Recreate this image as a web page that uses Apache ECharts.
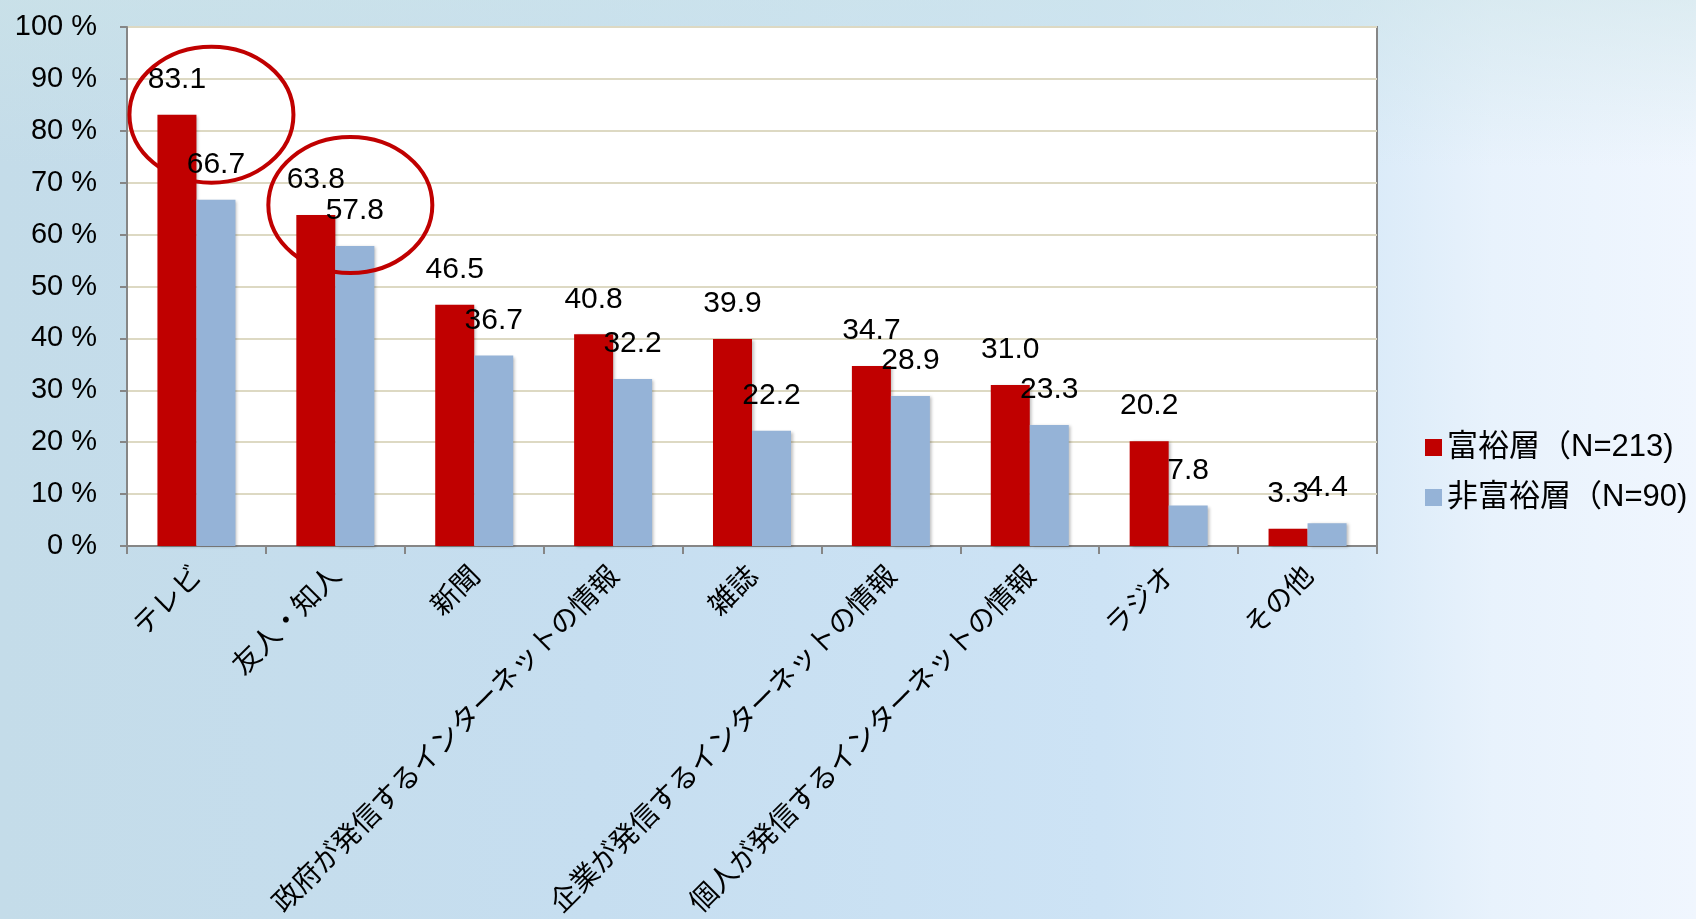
<!DOCTYPE html>
<html>
<head>
<meta charset="utf-8">
<script src="https://cdn.jsdelivr.net/npm/echarts@6/dist/echarts.min.js"></script>
<style>
html,body{margin:0;padding:0;width:1696px;height:919px;overflow:hidden;}
body{
  background:
    linear-gradient(180deg, rgba(205,228,232,0.55) 0%, rgba(205,228,232,0) 18%),
    linear-gradient(90deg, #c4dce9 0%, #c6def0 35%, #cde3f5 65%, #d9eaf8 80%, #e8f2fc 88%, #f0f6fe 100%);
}
#chart{width:1696px;height:919px;}
</style>
</head>
<body>
<div id="chart"></div>
<script>
const categories = ['テレビ','友人・知人','新聞','政府が発信するインターネットの情報','雑誌','企業が発信するインターネットの情報','個人が発信するインターネットの情報','ラジオ','その他'];
const seriesNames = ['富裕層（N=213)','非富裕層（N=90)'];
const wealthy = [83.1, 63.8, 46.5, 40.8, 39.9, 34.7, 31.0, 20.2, 3.3];
const nonWealthy = [66.7, 57.8, 36.7, 32.2, 22.2, 28.9, 23.3, 7.8, 4.4];
const yTicks = {min: 0, max: 100, interval: 10};
// highlighted categories (index, value level of ellipse centre)
const highlights = [[0, 83.1], [1, 65.7]];

const latin = "'Liberation Sans', Arial, 'Noto Sans CJK JP', sans-serif";
const cjk = "'Noto Sans CJK JP', 'Noto Sans CJK SC', sans-serif";

const chart = echarts.init(document.getElementById('chart'), null, {renderer: 'canvas'});
const labelCfg = {
  show: true, position: 'top', distance: 20,
  color: '#000', fontSize: 30, fontFamily: latin,
  formatter: p => Number(p.value).toFixed(1)
};
const shadow = {shadowColor: 'rgba(0,0,0,0.25)', shadowBlur: 3, shadowOffsetX: 2, shadowOffsetY: 1};
chart.setOption({
  backgroundColor: 'transparent',
  animation: false,
  grid: {left: 127, right: 319, top: 27, bottom: 373, show: true, backgroundColor: '#ffffff', borderColor: '#868686', borderWidth: 2},
  legend: {
    orient: 'vertical', left: 1420, top: 427,
    itemWidth: 17, itemHeight: 17, itemGap: 19, icon: 'rect',
    textStyle: {fontSize: 31, fontFamily: latin, color: '#000', padding: [0, 0, 0, 0]},
    data: seriesNames
  },
  xAxis: {
    type: 'category', data: categories,
    axisLine: {lineStyle: {color: '#868686', width: 2}},
    axisTick: {show: true, length: 8, lineStyle: {color: '#868686', width: 2}},
    axisLabel: {rotate: 45, interval: 0, fontSize: 28, fontFamily: cjk, color: '#000', margin: 24}
  },
  yAxis: {
    type: 'value', min: yTicks.min, max: yTicks.max, interval: yTicks.interval,
    axisLine: {show: true, lineStyle: {color: '#868686', width: 2}},
    axisTick: {show: true, length: 7, lineStyle: {color: '#868686', width: 2}},
    axisLabel: {formatter: '{value} %', fontSize: 29, fontFamily: latin, color: '#000', margin: 30},
    splitLine: {lineStyle: {color: '#DDD9C3', width: 2}}
  },
  series: [
    {name: seriesNames[0], type: 'bar', data: wealthy, barWidth: 39, barGap: '0%', itemStyle: Object.assign({color: '#C00000'}, shadow), label: labelCfg},
    {name: seriesNames[1], type: 'bar', data: nonWealthy, barWidth: 39, barGap: '0%', itemStyle: Object.assign({color: '#95B3D7'}, shadow), label: labelCfg}
  ]
});

const graphics = highlights.map(h => {
  const c = chart.convertToPixel({gridIndex: 0}, [h[0], h[1]]);
  return {
    type: 'ellipse', z: 100,
    shape: {cx: c[0] + 15, cy: c[1], rx: 82, ry: 68},
    style: {fill: 'none', stroke: '#C00000', lineWidth: 4}
  };
});
chart.setOption({graphic: graphics});
</script>
</body>
</html>
